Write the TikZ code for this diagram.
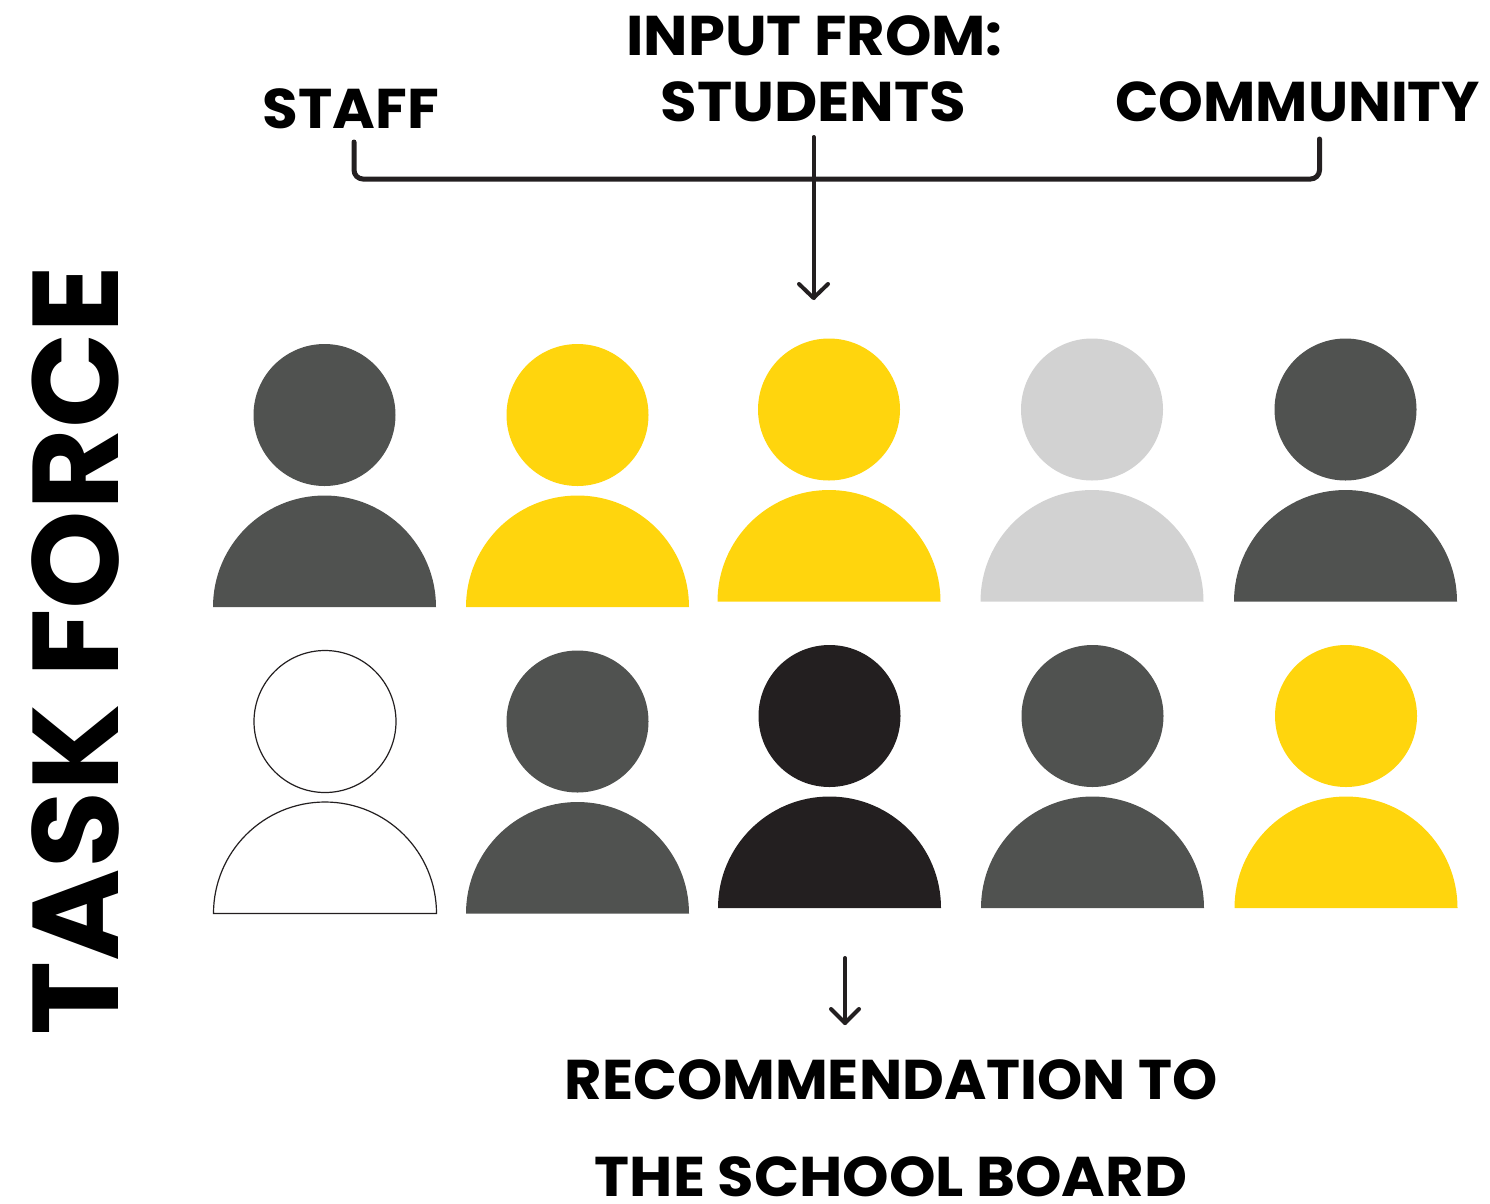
\documentclass[tikz,border=0pt]{standalone}
\usepackage{fontspec}
\setmainfont{Poppins}
\definecolor{dgray}{HTML}{505250}
\definecolor{yel}{HTML}{FFD50D}
\definecolor{lgray}{HTML}{D2D2D2}
\definecolor{blk}{HTML}{231F20}
\begin{document}
\begin{tikzpicture}[x=1pt,y=-1pt,
  lbl/.style={font=\fontsize{56}{56}\selectfont\bfseries,text=black,inner sep=0pt,anchor=center,transform shape},
  brk/.style={draw=blk,line width=5pt,line cap=round},
  con/.style={draw=blk,line width=4pt,line cap=round},
  arr/.style={con,line join=round}]
\useasboundingbox (0,0) rectangle (1490,1203);
\newcommand{\person}[4]{%
  \path[#4] (#1,#2-96) circle (71);
  \path[#4] (#1-111.5,#2+96) arc[start angle=180,end angle=360,radius=111.5] -- cycle;
  \coordinate (#3) at (#1,#2);}
\person{324.5}{511}{p1}{fill=dgray}
\person{577.5}{511}{p2}{fill=yel}
\person{829}{505.5}{p3}{fill=yel}
\person{1092}{505.5}{p4}{fill=lgray}
\person{1345.5}{505.5}{p5}{fill=dgray}
\person{325}{817.5}{p6}{draw=blk,line width=1.2pt,fill=white}
\person{577.5}{817.5}{p7}{fill=dgray}
\person{829.5}{812}{p8}{fill=blk}
\person{1092.5}{812}{p9}{fill=dgray}
\person{1346}{812}{p10}{fill=yel}
\begin{scope}[every node/.append style={lbl}]
\node[xscale=1.056] (inp) at (814.5,36) {INPUT FROM:};
\node[xscale=1.063] (stu) at (813.5,102) {STUDENTS};
\node[xscale=1.036] (sta) at (351,109) {STAFF};
\node[xscale=1.017] (com) at (1297.5,102) {COMMUNITY};
\node[xscale=1.027] (rec) at (891,1080) {RECOMMENDATION TO};
\node[xscale=1.057] (sch) at (891,1177) {THE SCHOOL BOARD};
\end{scope}
\node[inner sep=0pt,transform shape,rotate=90,xscale=1.028,font=\fontsize{122}{122}\selectfont\bfseries] (tf) at (75,650.5) {TASK FORCE};
\coordinate (a) at (354,142);
\coordinate (b) at (1319.5,139);
\coordinate (c) at (813.5,137);
\coordinate (d) at (813.5,298);
\coordinate (e) at (845,958);
\coordinate (f) at (845,1023);
\draw[brk,rounded corners=9pt] (a) |- (813.5,179) -| (b);
\draw[con] (c) -- (d);
\draw[arr] (799,284) -- (d) -- (828,284);
\draw[con] (e) -- (f);
\draw[arr] (831,1009) -- (f) -- (859,1009);
\end{tikzpicture}
\end{document}
